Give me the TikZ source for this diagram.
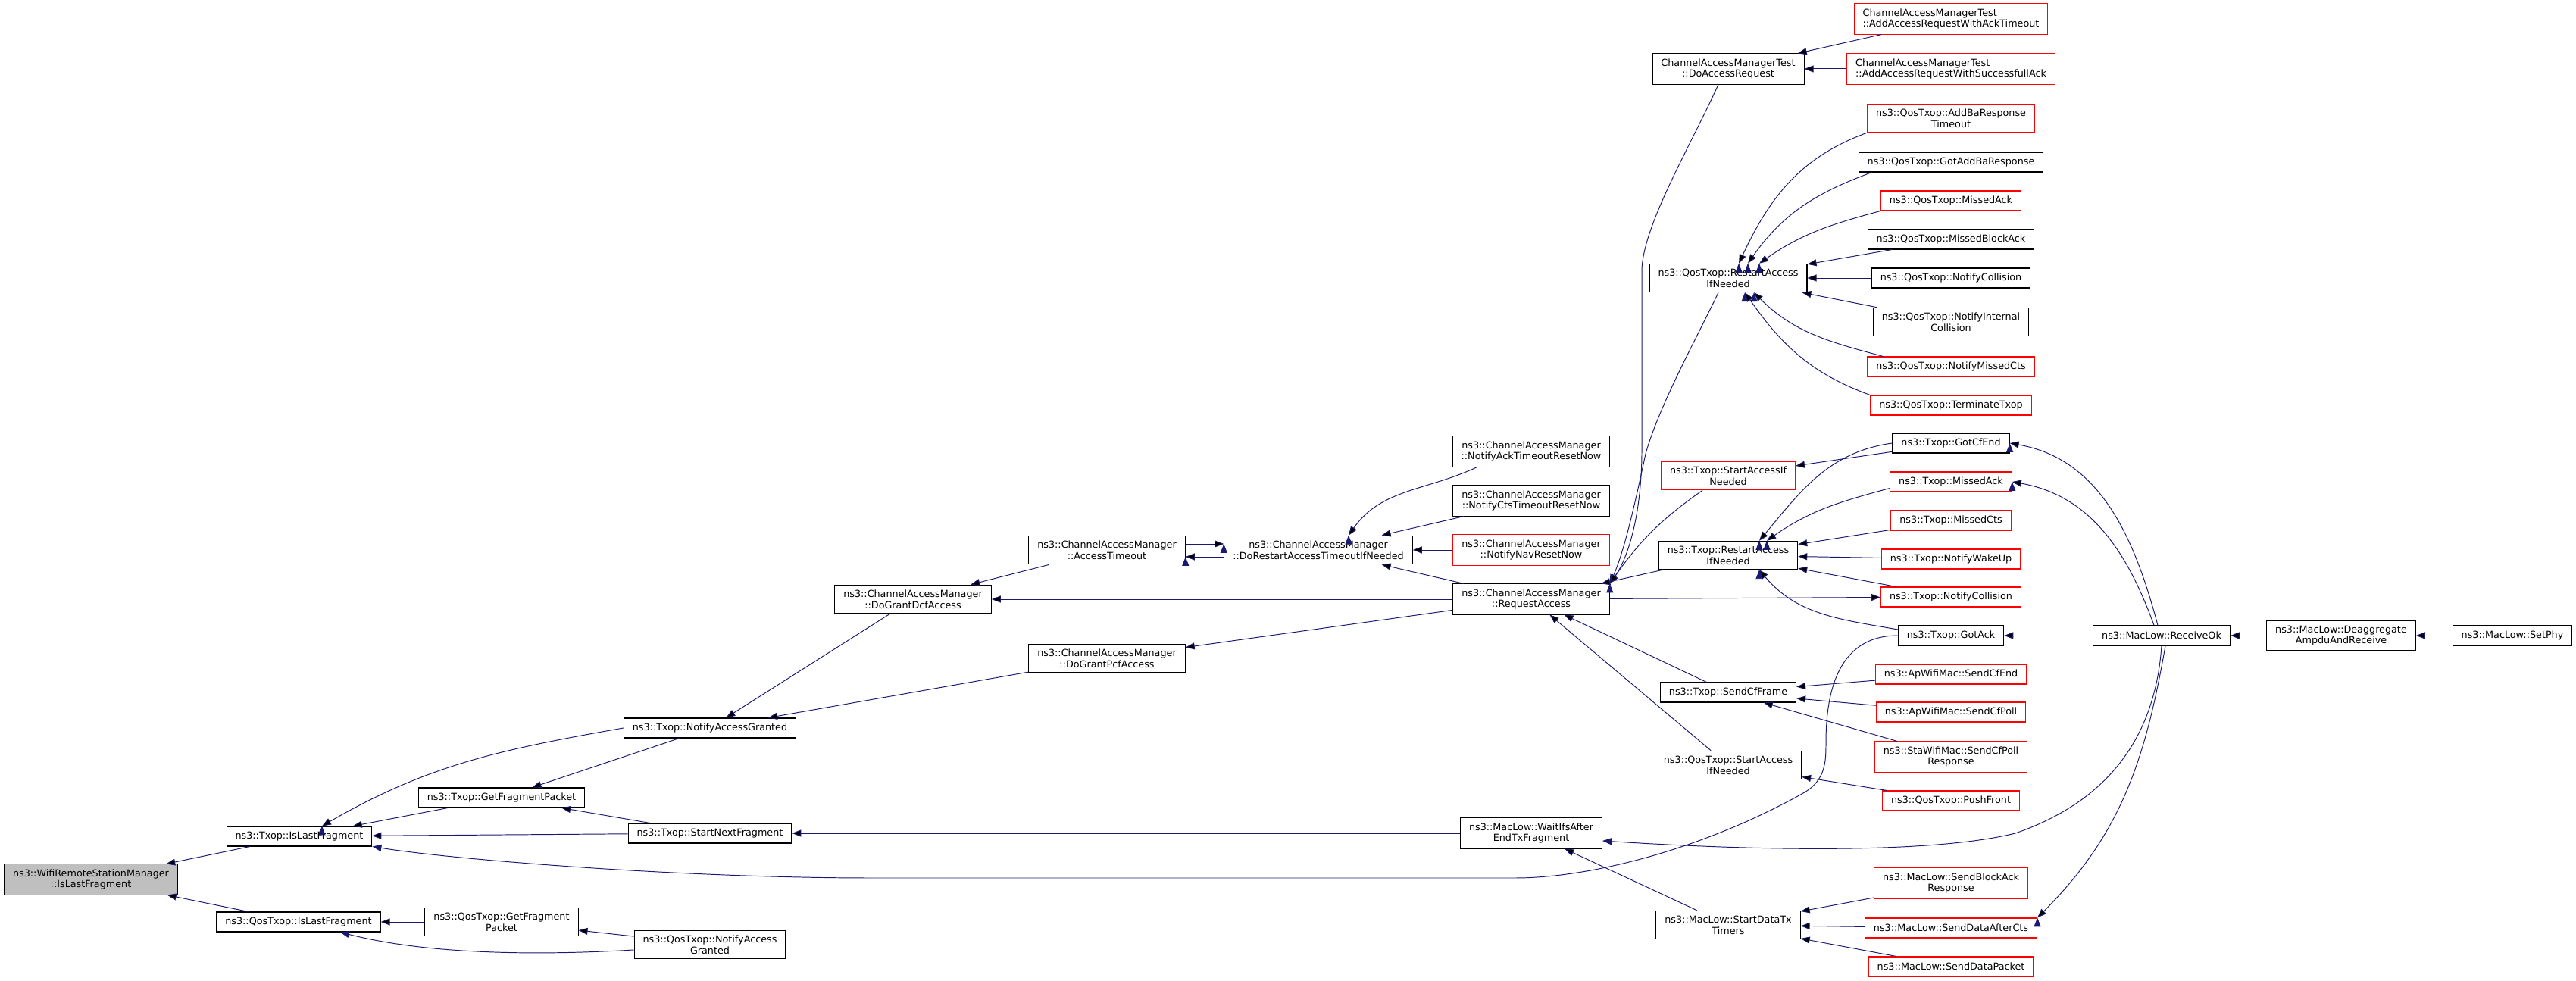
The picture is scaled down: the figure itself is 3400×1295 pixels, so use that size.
\documentclass[tikz,border=0pt]{standalone}
\usepackage{fontspec}
\setmainfont{DejaVu Sans}
\usetikzlibrary{arrows.meta}
\definecolor{edgeblue}{HTML}{191970}
\definecolor{rootgray}{HTML}{BFBFBF}
\newcommand{\dox}{\fontsize{7.26}{8.4}\selectfont}

\begin{document}
\begin{tikzpicture}[x=0.2mm, y=0.2mm,
    fn/.style={shape=rectangle, draw=black, line width=0.6pt, font=\dox, align=center, inner xsep=2.3mm, inner ysep=1.3mm, minimum height=5.2mm},
    cut/.style={fn, draw=red},
    root/.style={fn, fill=rootgray},
    call/.style={{Triangle[length=2.4mm,width=1.8mm]}-, draw=edgeblue, line width=0.55pt}]
    \useasboundingbox (0,0) rectangle (3400,1295);

    \node[root] (wrsm) at (120,134){ns3::WifiRemoteStationManager\\::IsLastFragment};
    \node[fn] (txopLast) at (395,191){ns3::Txop::IsLastFragment};
    \node[fn] (qosLast) at (394,78){ns3::QosTxop::IsLastFragment};
    \node[fn] (txopFrag) at (662,242){ns3::Txop::GetFragmentPacket};
    \node[fn] (qosFrag) at (662,78){ns3::QosTxop::GetFragment\\Packet};
    \node[fn] (txopGrant) at (937,334){ns3::Txop::NotifyAccessGranted};
    \node[fn] (txopNext) at (937,195){ns3::Txop::StartNextFragment};
    \node[fn] (qosGrant) at (937,48){ns3::QosTxop::NotifyAccess\\Granted};
    \node[fn] (dcf) at (1205,504){ns3::ChannelAccessManager\\::DoGrantDcfAccess};
    \node[fn] (accTimeout) at (1461,569){ns3::ChannelAccessManager\\::AccessTimeout};
    \node[fn] (pcf) at (1461,426){ns3::ChannelAccessManager\\::DoGrantPcfAccess};
    \node[fn] (doRestart) at (1740,569){ns3::ChannelAccessManager\\::DoRestartAccessTimeoutIfNeeded};
    \node[fn] (ackReset) at (2021,699){ns3::ChannelAccessManager\\::NotifyAckTimeoutResetNow};
    \node[fn] (ctsReset) at (2021,634){ns3::ChannelAccessManager\\::NotifyCtsTimeoutResetNow};
    \node[cut] (navReset) at (2021,569){ns3::ChannelAccessManager\\::NotifyNavResetNow};
    \node[fn] (request) at (2021,504){ns3::ChannelAccessManager\\::RequestAccess};
    \node[fn] (waitIfs) at (2021,195){ns3::MacLow::WaitIfsAfter\\EndTxFragment};
    \node[fn] (camTest) at (2281,1204){ChannelAccessManagerTest\\::DoAccessRequest};
    \node[fn] (qosRestart) at (2281,928){ns3::QosTxop::RestartAccess\\IfNeeded};
    \node[cut] (startAccess) at (2281,667){ns3::Txop::StartAccessIf\\Needed};
    \node[fn] (txopRestart) at (2281,562){ns3::Txop::RestartAccess\\IfNeeded};
    \node[fn] (sendCf) at (2281,381){ns3::Txop::SendCfFrame};
    \node[fn] (qosStart) at (2281,285){ns3::QosTxop::StartAccess\\IfNeeded};
    \node[fn] (dataTimers) at (2281,74){ns3::MacLow::StartDataTx\\Timers};
    \node[cut, align=left] (ackTimeoutTest) at (2575,1270){ChannelAccessManagerTest\\::AddAccessRequestWithAckTimeout};
    \node[cut, align=left] (successTest) at (2575,1204){ChannelAccessManagerTest\\::AddAccessRequestWithSuccessfullAck};
    \node[cut] (addBa) at (2575,1139){ns3::QosTxop::AddBaResponse\\Timeout};
    \node[fn] (gotAddBa) at (2575,1081){ns3::QosTxop::GotAddBaResponse};
    \node[cut] (qosMissedAck) at (2575,1030){ns3::QosTxop::MissedAck};
    \node[fn] (qosMissedBlock) at (2575,979){ns3::QosTxop::MissedBlockAck};
    \node[fn] (qosCollision) at (2575,928){ns3::QosTxop::NotifyCollision};
    \node[fn] (qosInternal) at (2575,870){ns3::QosTxop::NotifyInternal\\Collision};
    \node[cut] (qosMissedCts) at (2575,811){ns3::QosTxop::NotifyMissedCts};
    \node[cut] (terminate) at (2575,760){ns3::QosTxop::TerminateTxop};
    \node[fn] (gotCfEnd) at (2575,710){ns3::Txop::GotCfEnd};
    \node[cut] (txopMissedAck) at (2575,659){ns3::Txop::MissedAck};
    \node[cut] (txopMissedCts) at (2575,608){ns3::Txop::MissedCts};
    \node[cut] (wakeUp) at (2575,557){ns3::Txop::NotifyWakeUp};
    \node[cut] (txopCollision) at (2575,507){ns3::Txop::NotifyCollision};
    \node[fn] (gotAck) at (2575,456){ns3::Txop::GotAck};
    \node[cut] (apCfEnd) at (2575,405){ns3::ApWifiMac::SendCfEnd};
    \node[cut] (apCfPoll) at (2575,355){ns3::ApWifiMac::SendCfPoll};
    \node[cut] (staPoll) at (2575,296){ns3::StaWifiMac::SendCfPoll\\Response};
    \node[cut] (pushFront) at (2575,238){ns3::QosTxop::PushFront};
    \node[cut] (blockAckResp) at (2575,129){ns3::MacLow::SendBlockAck\\Response};
    \node[cut] (afterCts) at (2575,70){ns3::MacLow::SendDataAfterCts};
    \node[cut] (dataPacket) at (2575,19){ns3::MacLow::SendDataPacket};
    \node[fn] (receiveOk) at (2853,456){ns3::MacLow::ReceiveOk};
    \node[fn] (deaggregate) at (3090,456){ns3::MacLow::Deaggregate\\AmpduAndReceive};
    \node[fn] (setPhy) at (3316,456){ns3::MacLow::SetPhy};

    \path [call] (wrsm) edge (txopLast);
    \path [call] (wrsm) edge (qosLast);
    \path [call] ([xshift=6mm]txopLast.north) edge[out=30,in=190] (txopGrant.west);
    \path [call] (txopLast) edge (txopFrag);
    \path [call] (txopLast) edge (txopNext);
    \draw [call] (txopLast.south east) .. controls (600,160) and (900,136) .. (1150,136) -- (2000,136) .. controls (2100,136) and (2250,175) .. (2380,248) .. controls (2410,265) and (2410,290) .. (2410,315) .. controls (2410,420) and (2450,456) .. (gotAck.west);
    \path [call] (qosLast) edge (qosFrag);
    \draw [call] ([xshift=11mm]qosLast.south) .. controls (560,36) and (700,33) .. ([yshift=-1.4mm]qosGrant.west);
    \path [call] (txopFrag) edge (txopGrant);
    \path [call] (txopFrag) edge (txopNext);
    \path [call] (txopNext) edge (waitIfs);
    \path [call] (qosFrag) edge (qosGrant);
    \path [call] (txopGrant) edge (dcf);
    \path [call] (txopGrant) edge (pcf);
    \path [call] (dcf) edge (accTimeout);
    \path [call] (dcf) edge (request);
    \path [call] (pcf) edge (request);
    \path [call] ([yshift=-1.8mm]accTimeout.east) edge ([yshift=-1.8mm]doRestart.west);
    \path [call] ([yshift=1.6mm]doRestart.west) edge ([yshift=1.6mm]accTimeout.east);
    \path [call] ([xshift=8mm]doRestart.north) edge[out=55,in=205] ([xshift=6.6mm]ackReset.south west);
    \path [call] (doRestart) edge (ctsReset);
    \path [call] (doRestart) edge (navReset);
    \path [call] (doRestart) edge (request);
    \draw [call] (request.north east) .. controls (2150,560) and (2167,620) .. (2167,700) -- (2167,940) .. controls (2170,1000) and (2230,1100) .. ([xshift=-2.6mm]camTest.south);
    \draw [call] (request.north east) .. controls (2145,570) and (2160,640) .. (2172,696) .. controls (2190,760) and (2240,850) .. ([xshift=-2.6mm]qosRestart.south);
    \path [call] (request.north east) edge[out=55,in=215] ([xshift=-6.8mm]startAccess.south);
    \path [call] (request) edge (txopRestart);
    \path [call] (txopCollision) edge (request);
    \path [call] (request) edge (sendCf);
    \path [call] (request) edge (qosStart);
    \path [call] (camTest) edge (ackTimeoutTest);
    \path [call] (camTest) edge (successTest);
    \path [call] ([xshift=2.8mm]qosRestart.north) edge[out=65,in=200] (addBa.south west);
    \path [call] ([xshift=5.2mm]qosRestart.north) edge[out=55,in=200] ([xshift=3.6mm]gotAddBa.south west);
    \path [call] ([xshift=8.2mm]qosRestart.north) edge[out=35,in=195] (qosMissedAck.south west);
    \path [call] (qosRestart) edge (qosMissedBlock);
    \path [call] (qosRestart) edge (qosCollision);
    \path [call] (qosRestart) edge (qosInternal);
    \path [call] ([xshift=6.8mm]qosRestart.south) edge[out=-45,in=165] ([xshift=4.2mm]qosMissedCts.north west);
    \path [call] ([xshift=4.4mm]qosRestart.south) edge[out=-55,in=160] (terminate.north west);
    \path [call] (startAccess) edge (gotCfEnd);
    \path [call] ([xshift=8.2mm]txopRestart.north) edge[out=50,in=188] (gotCfEnd.west);
    \path [call] ([xshift=10.2mm]txopRestart.north) edge[out=35,in=195] ([yshift=1mm]txopMissedAck.south west);
    \path [call] (txopRestart) edge (txopMissedCts);
    \path [call] (txopRestart) edge (wakeUp);
    \path [call] (txopRestart) edge (txopCollision);
    \path [call] ([xshift=8.2mm]txopRestart.south) edge[out=-50,in=170] ([yshift=1.6mm]gotAck.west);
    \path [call] (gotCfEnd.east) edge[out=-10,in=105] ([xshift=-1mm]receiveOk.north);
    \path [call] (txopMissedAck.east) edge[out=-10,in=110] ([xshift=-2mm]receiveOk.north);
    \path [call] (gotAck) edge (receiveOk);
    \draw [call] ([yshift=-2mm]waitIfs.east) .. controls (2350,170) and (2560,170) .. (2660,195) .. controls (2790,240) and (2845,330) .. (receiveOk.south);
    \path [call] (afterCts.north east) edge[out=45,in=-100] ([xshift=1mm]receiveOk.south);
    \path [call] (sendCf) edge (apCfEnd);
    \path [call] (sendCf) edge (apCfPoll);
    \path [call] (sendCf) edge (staPoll);
    \path [call] (qosStart) edge (pushFront);
    \path [call] (waitIfs) edge (dataTimers);
    \path [call] (dataTimers) edge (blockAckResp);
    \path [call] (dataTimers) edge (afterCts);
    \path [call] (dataTimers) edge (dataPacket);
    \path [call] (receiveOk) edge (deaggregate);
    \path [call] (deaggregate) edge (setPhy);
\end{tikzpicture}
\end{document}
